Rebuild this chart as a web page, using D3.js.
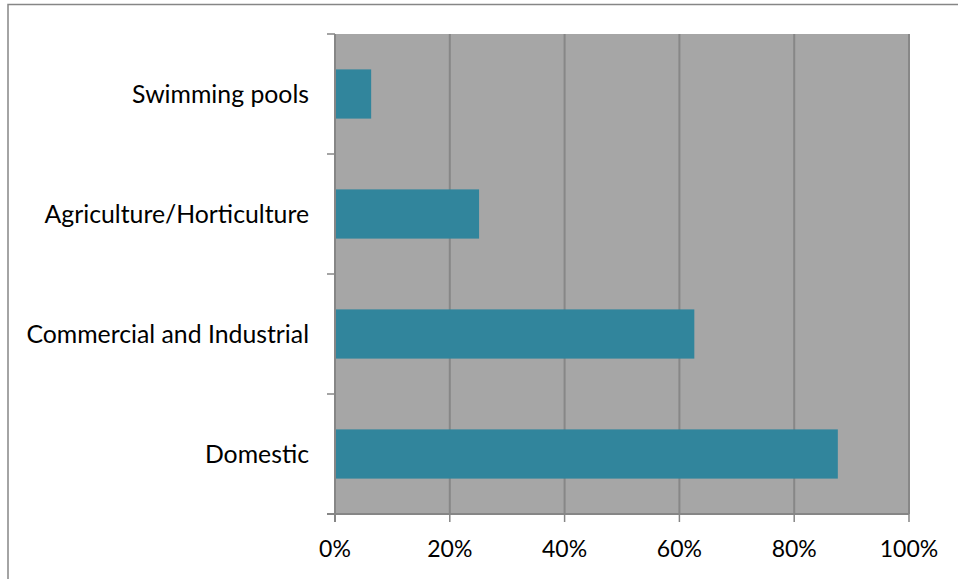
<!DOCTYPE html>
<meta charset="utf-8">
<style>
    body { margin: 0; background: #fff; }
    text { fill: #000; font-family: Lato, "Open Sans", sans-serif; font-size: 24.8px; }
    text.tick-label { font-size: 23px; }
</style>
<body>
<script src="https://d3js.org/d3.v7.min.js"></script>
<script>

    var categories = ["Swimming pools", "Agriculture/Horticulture", "Commercial and Industrial", "Domestic"];
    var values = [6.3, 25.1, 62.6, 87.6];
    var ticks = [0, 20, 40, 60, 80, 100];

    var W = 958, H = 579;
    var margin = {top: 34, right: 49, bottom: 65, left: 335},
        width = W - margin.left - margin.right,
        height = H - margin.top - margin.bottom;

    var svg = d3.select("body").append("svg")
            .attr("width", W)
            .attr("height", H);

    // outer chart border (runs off the right and bottom edges)
    svg.append("rect")
        .attr("x", 8).attr("y", 4.5)
        .attr("width", W + 10).attr("height", H + 10)
        .attr("fill", "none")
        .attr("stroke", "#868686")
        .attr("stroke-width", 1.5);

    var g = svg.append("g")
            .attr("transform", "translate(" + margin.left + "," + margin.top + ")");

    var x = d3.scaleLinear().domain([0, 100]).range([0, width]);
    var y = d3.scaleBand().domain(categories).range([0, height])
            .paddingInner(0.59).paddingOuter(0.295);
    var slot = d3.scaleBand().domain(categories).range([0, height]);

    g.append("rect")
        .attr("width", width).attr("height", height)
        .attr("fill", "#a6a6a6");

    // vertical gridlines
    g.selectAll("line.grid").data(ticks.slice(1)).enter().append("line")
        .attr("class", "grid")
        .attr("x1", function(d) { return x(d); })
        .attr("x2", function(d) { return x(d); })
        .attr("y1", 0).attr("y2", height)
        .attr("stroke", "#878787").attr("stroke-width", 2);

    g.selectAll("rect.bar").data(values).enter().append("rect")
        .attr("class", "bar")
        .attr("x", 0)
        .attr("y", function(d, i) { return y(categories[i]); })
        .attr("width", function(d) { return x(d); })
        .attr("height", y.bandwidth())
        .attr("fill", "#31859c");

    // y axis: line with ticks on category boundaries
    var yAxis = g.append("g");
    yAxis.append("line")
        .attr("x1", 0).attr("x2", 0).attr("y1", 0).attr("y2", height + 8)
        .attr("stroke", "#868686").attr("stroke-width", 2);
    var bounds = categories.map(function(c) { return slot(c); }).concat([height]);
    yAxis.selectAll("line.tick").data(bounds).enter().append("line")
        .attr("class", "tick")
        .attr("x1", -8).attr("x2", 0)
        .attr("y1", function(d) { return d; }).attr("y2", function(d) { return d; })
        .attr("stroke", "#868686").attr("stroke-width", 1.5);
    yAxis.selectAll("text").data(categories).enter().append("text")
        .attr("x", -26)
        .attr("y", function(d) { return slot(d) + slot.bandwidth() / 2; })
        .attr("dy", "0.35em")
        .attr("text-anchor", "end")
        .text(function(d) { return d; });

    // x axis
    var xAxis = g.append("g").attr("transform", "translate(0," + height + ")");
    xAxis.append("line")
        .attr("x1", -8).attr("x2", width)
        .attr("stroke", "#868686").attr("stroke-width", 2);
    xAxis.selectAll("line.tick").data(ticks).enter().append("line")
        .attr("class", "tick")
        .attr("x1", function(d) { return x(d); }).attr("x2", function(d) { return x(d); })
        .attr("y1", 0).attr("y2", 8)
        .attr("stroke", "#868686").attr("stroke-width", 1.5);
    xAxis.selectAll("text").data(ticks).enter().append("text")
        .attr("class", "tick-label")
        .attr("x", function(d) { return x(d); })
        .attr("y", 35)
        .attr("dy", "0.35em")
        .attr("text-anchor", "middle")
        .text(function(d) { return d + "%"; });

</script>
